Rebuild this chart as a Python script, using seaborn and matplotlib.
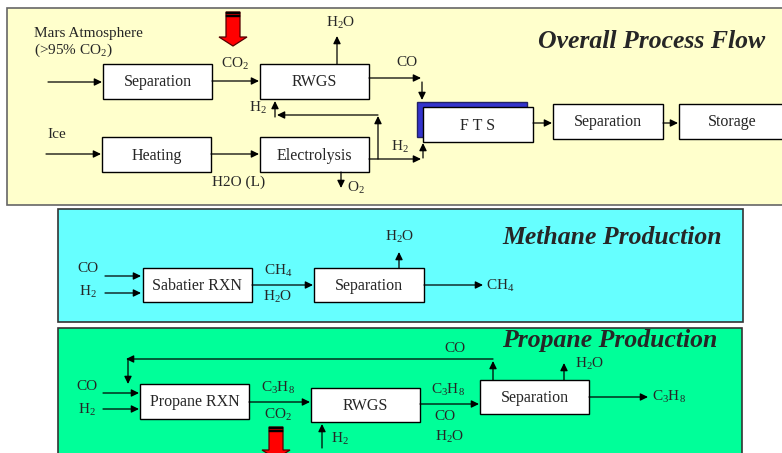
import matplotlib
matplotlib.use("Agg")
import matplotlib.pyplot as plt
from matplotlib.patches import Rectangle, Polygon
import seaborn as sns

# --- diagram content -------------------------------------------------------
panel_titles = ["Overall Process Flow", "Methane Production", "Propane Production"]
panel_colors = ["#FFFFCC", "#66FFFF", "#00FF99"]

overall_units = ["Separation", "RWGS", "Heating", "Electrolysis", "F T S", "Separation", "Storage"]
methane_units = ["Sabatier RXN", "Separation"]
propane_units = ["Propane RXN", "RWGS", "Separation"]

overall_streams = ["Mars Atmosphere", "(>95% CO$_2$)", "CO$_2$", "H$_2$O", "CO", "H$_2$",
                   "Ice", "H2O (L)", "O$_2$", "H$_2$"]
methane_streams = ["CO", "H$_2$", "CH$_4$", "H$_2$O", "H$_2$O", "CH$_4$"]
propane_streams = ["CO", "CO", "H$_2$", "C$_3$H$_8$", "CO$_2$", "H$_2$",
                   "C$_3$H$_8$", "CO", "H$_2$O", "H$_2$O", "C$_3$H$_8$"]

# --- layout (pixel coordinates, y grows downwards) --------------------------
panel_boxes = [(7, 8, 800, 205), (58, 209, 743, 322), (58, 328, 742, 470)]
title_pos = [(765, 42), (722, 237), (717, 341)]

overall_boxes = [(103, 64, 212, 99), (260, 64, 369, 99), (102, 137, 211, 172),
                 (260, 137, 369, 172), (423, 107, 533, 142), (553, 104, 663, 139),
                 (679, 104, 800, 139)]
methane_boxes = [(143, 268, 252, 302), (314, 268, 424, 302)]
propane_boxes = [(140, 384, 249, 419), (311, 388, 420, 422), (480, 380, 589, 414)]

overall_text_pos = [(34, 33, "left"), (34, 50, "left"), (235, 64, "center"), (341, 23, "center"),
                    (407, 63, "center"), (258, 108, "center"), (57, 134, "center"),
                    (239, 182, "center"), (356, 188, "center"), (400, 147, "center")]
methane_text_pos = [(88, 269, "center"), (88, 292, "center"), (278, 271, "center"),
                    (278, 297, "center"), (400, 237, "center"), (486, 286, "left")]
propane_text_pos = [(455, 349, "center"), (87, 386, "center"), (87, 410, "center"),
                    (278, 388, "center"), (278, 415, "center"), (340, 439, "center"),
                    (448, 390, "center"), (445, 416, "center"), (450, 437, "center"),
                    (590, 364, "center"), (652, 397, "left")]

arrows = [
    # overall
    ((48, 82), (102, 82)), ((212, 81), (259, 81)), ((337, 64), (337, 36)),
    ((369, 78), (421, 78)), ((422, 82), (422, 100)), ((533, 123), (552, 123)),
    ((663, 123), (678, 123)), ((46, 154), (101, 154)), ((211, 154), (259, 154)),
    ((341, 172), (341, 188)), ((369, 159), (421, 159)), ((423, 158), (423, 143)),
    ((378, 159), (378, 116)), ((378, 115), (277, 115)), ((275, 117), (275, 101)),
    # methane
    ((105, 276), (141, 276)), ((105, 293), (141, 293)), ((252, 285), (313, 285)),
    ((399, 268), (399, 252)), ((424, 285), (483, 285)),
    # propane
    ((103, 393), (139, 393)), ((103, 409), (139, 409)), ((249, 402), (310, 402)),
    ((420, 404), (479, 404)), ((589, 397), (648, 397)), ((564, 380), (564, 363)),
    ((493, 380), (493, 361)), ((493, 359), (126, 359)), ((128, 359), (128, 384)),
    ((322, 448), (322, 424)),
]

red_arrows = [(233, 12, 46), (276, 427, 459)]  # centre x, top y, tip y

# --- drawing ----------------------------------------------------------------
sns.set_style("white")
plt.rcParams["font.family"] = ["Liberation Serif", "DejaVu Serif"]
plt.rcParams["mathtext.fontset"] = "custom"
plt.rcParams["mathtext.rm"] = "Liberation Serif"
plt.rcParams["mathtext.it"] = "Liberation Serif:italic"
plt.rcParams["mathtext.bf"] = "Liberation Serif:bold"

fig = plt.figure(figsize=(7.82, 4.53), dpi=100)
ax = fig.add_axes([0, 0, 1, 1])
ax.set_xlim(0, 782)
ax.set_ylim(453, 0)
ax.axis("off")


def rect(x0, y0, x1, y1, fc, ec="black", lw=1.0, z=2):
    ax.add_patch(Rectangle((x0, y0), x1 - x0, y1 - y0, facecolor=fc, edgecolor=ec,
                           linewidth=lw, zorder=z))


for (x0, y0, x1, y1), fc, ec in zip(panel_boxes, panel_colors, ["#666666", "#333333", "#333333"]):
    rect(x0, y0, x1, y1, fc, ec=ec, lw=1.2, z=1)

for (x, y), title in zip(title_pos, panel_titles):
    ax.text(x, y, title, ha="right", va="center", fontsize=18.5,
            fontweight="bold", fontstyle="italic", zorder=5)

# shadow behind the FTS reactor
rect(417, 102, 527, 137, "#3333CC", ec="#222266", z=2)

for boxes, units in [(overall_boxes, overall_units), (methane_boxes, methane_units),
                     (propane_boxes, propane_units)]:
    for (x0, y0, x1, y1), name in zip(boxes, units):
        rect(x0, y0, x1, y1, "white", z=3)
        cx = (x0 + x1) / 2 if name != "Storage" else (x0 + x1 - 14) / 2
        ax.text(cx, (y0 + y1) / 2 + 1, name, ha="center", va="center", fontsize=11.5, zorder=4)

for streams, positions in [(overall_streams, overall_text_pos), (methane_streams, methane_text_pos),
                           (propane_streams, propane_text_pos)]:
    for label, (x, y, ha) in zip(streams, positions):
        ax.text(x, y, label, ha=ha, va="center", fontsize=11, zorder=4)

for start, end in arrows:
    ax.annotate("", xy=end, xytext=start, zorder=4,
                arrowprops=dict(arrowstyle="-|>,head_length=0.45,head_width=0.22",
                                color="black", lw=0.9, shrinkA=0, shrinkB=0,
                                mutation_scale=10))

for cx, top, tip in red_arrows:
    head_y = tip - 9
    shape = [(cx - 7, top), (cx + 7, top), (cx + 7, head_y), (cx + 14, head_y),
             (cx, tip), (cx - 14, head_y), (cx - 7, head_y)]
    ax.add_patch(Polygon(shape, closed=True, facecolor="#FF0000", edgecolor="#550000",
                         linewidth=0.9, zorder=5))
    for band in (top, top + 3):
        rect(cx - 7, band, cx + 7, band + 1.6, "black", ec="black", lw=0.3, z=6)

fig.savefig("out.png", dpi=100)
plt.close(fig)
